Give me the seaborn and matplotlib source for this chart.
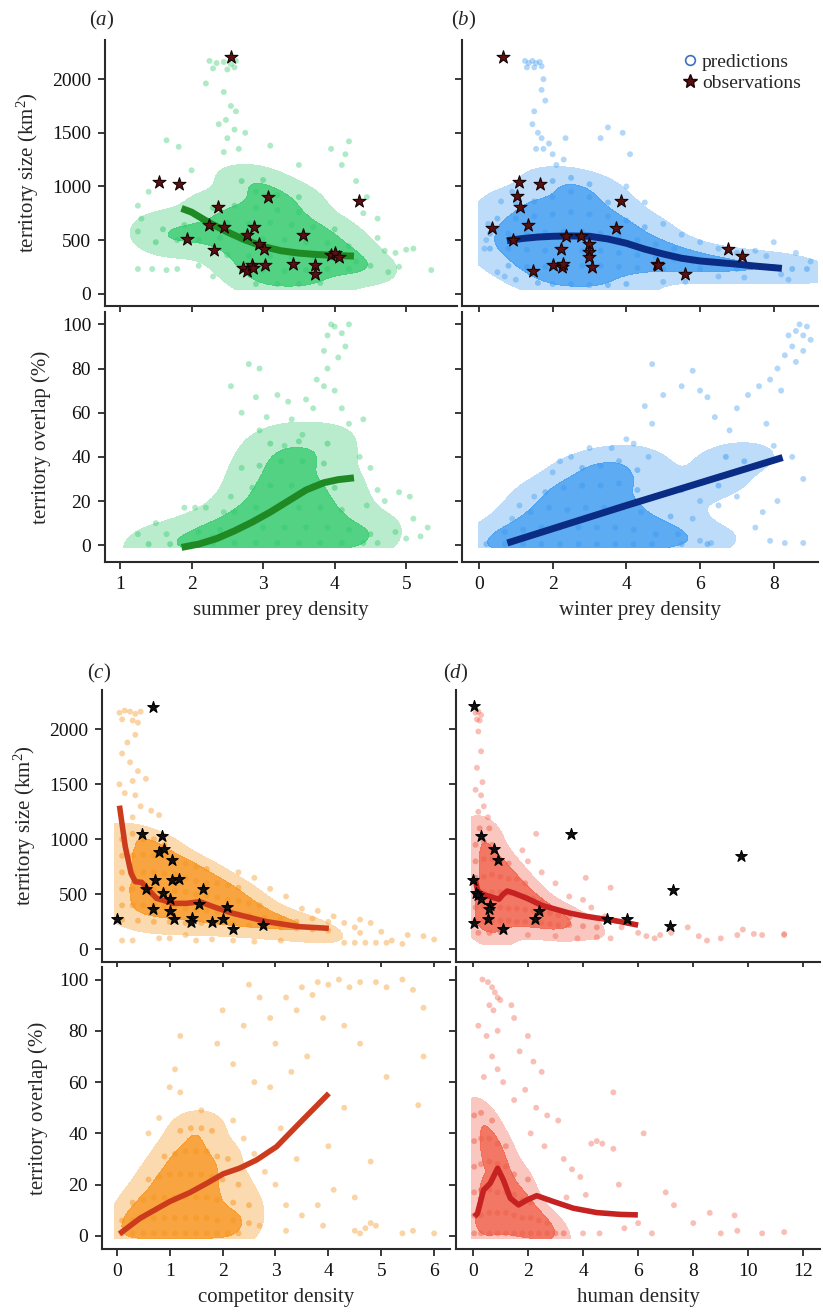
import matplotlib
matplotlib.use("Agg")
import matplotlib.pyplot as plt
import seaborn as sns
from matplotlib.lines import Line2D
from matplotlib.colors import ListedColormap, to_rgba

# ---------------- data ----------------
# (a) summer prey density -> territory size
a_size_core = [(2.3, 800), (2.6, 820), (2.9, 800), (3.2, 780), (3.5, 760),
               (1.6, 600), (1.9, 640), (2.2, 650), (2.5, 660), (2.8, 650), (3.1, 660), (3.4, 640), (3.7, 620), (4.0, 600),
               (1.5, 480), (1.8, 500), (2.1, 500), (2.4, 520), (2.7, 500), (3.0, 510), (3.3, 500), (3.6, 480), (3.9, 470), (4.2, 440),
               (2.5, 360), (2.8, 350), (3.1, 350), (3.4, 340), (3.7, 340), (4.0, 330), (4.3, 300), (4.5, 260),
               (2.7, 220), (3.0, 220), (3.3, 210), (3.6, 220), (3.9, 230), (4.2, 230),
               (2.9, 90), (3.2, 90), (3.5, 90), (3.8, 100),
               (2.9, 950), (3.2, 920), (3.5, 900), (2.7, 1050), (3.0, 1060)]
a_size_sparse = [(2.25, 2170), (2.35, 2150), (2.45, 2160), (2.55, 2140), (2.62, 2170), (2.3, 2100), (2.5, 2090), (2.6, 2110),
                 (2.2, 1960), (2.45, 1880), (2.55, 1750), (2.48, 1620), (2.62, 1700), (2.38, 1580), (2.6, 1530), (2.5, 1450),
                 (2.75, 1500), (2.45, 1320), (2.66, 1350),
                 (1.65, 1430), (1.82, 1370), (3.1, 1380), (3.95, 1350), (4.15, 1300), (4.2, 1420), (4.1, 1200), (3.5, 1200),
                 (2.0, 1150), (1.4, 950), (1.25, 820), (1.3, 700), (1.25, 580),
                 (1.25, 230), (1.45, 230), (1.65, 220), (1.8, 230), (2.1, 260), (2.3, 160),
                 (4.6, 520), (4.7, 400), (4.85, 380), (5.0, 410), (5.1, 420), (4.9, 250), (4.75, 200), (4.4, 750),
                 (4.6, 700), (5.35, 220), (4.45, 900), (4.3, 1050)]
a_size_line_x = [1.86, 2.0, 2.25, 2.5, 2.75, 3.0, 3.25, 3.5, 3.75, 4.0, 4.27]
a_size_line_y = [795, 760, 660, 575, 500, 440, 400, 378, 365, 357, 350]
a_obs = [(1.54, 1037), (1.83, 1025), (2.55, 2202), (2.37, 804), (1.93, 506), (2.24, 643), (2.31, 410), (2.45, 618),
         (2.78, 543), (2.87, 621), (2.94, 460), (3.01, 416), (3.07, 904), (2.72, 242), (2.77, 214), (2.85, 264),
         (2.86, 242), (3.03, 267), (3.42, 273), (3.56, 543), (3.72, 267), (3.73, 180), (3.95, 360), (4.00, 376),
         (4.06, 345), (4.34, 863)]

# (a) summer prey density -> territory overlap
a_ovl_core = [(1.4, 0.5), (1.7, 0.5), (2.0, 0.5), (2.3, 1), (2.6, 1), (2.9, 1), (3.2, 1), (3.5, 1), (3.8, 1), (4.1, 1), (4.4, 1),
              (2.1, 6), (2.4, 7), (2.7, 8), (3.0, 8), (3.3, 8), (3.6, 8), (3.9, 8), (4.2, 7), (4.5, 5),
              (2.6, 15), (2.9, 17), (3.2, 17), (3.5, 17), (3.8, 17), (4.1, 16),
              (2.85, 26), (3.1, 27), (3.4, 27), (3.7, 27), (4.0, 26),
              (2.95, 36), (3.25, 38), (3.55, 38), (3.85, 37),
              (3.1, 46), (3.5, 47), (3.9, 46)]
a_ovl_sparse = [(1.25, 5), (1.5, 10), (1.65, 5), (1.9, 17), (2.05, 17), (2.2, 17), (2.45, 15), (2.3, 4), (2.55, 22), (2.7, 35),
                (2.7, 60), (2.55, 72), (2.8, 82), (2.95, 80), (2.9, 67), (3.2, 68), (3.35, 65), (3.05, 58), (3.4, 57), (3.6, 66),
                (3.7, 62), (3.75, 75), (3.85, 72), (3.9, 80), (3.85, 88), (3.9, 95), (3.95, 100), (4.0, 99), (4.1, 96),
                (4.15, 90), (4.05, 85), (4.2, 100), (4.0, 70), (4.1, 62), (4.2, 55), (4.4, 57), (4.35, 40), (4.5, 35),
                (4.6, 25), (4.45, 18), (4.7, 20), (4.9, 24), (5.05, 22), (5.1, 12), (5.0, 3), (4.85, 6), (5.2, 4), (5.3, 8),
                (4.6, 1), (3.55, 50), (3.3, 45), (2.95, 52)]
a_ovl_line_x = [1.86, 2.1, 2.35, 2.6, 2.85, 3.1, 3.35, 3.6, 3.85, 4.05, 4.27]
a_ovl_line_y = [-1, 0.5, 3, 6.5, 10.5, 15, 20, 25, 28.3, 29.7, 30.5]

# (b) winter prey density -> territory size
b_size_core = [(1.0, 850), (1.5, 860), (2.0, 900), (2.5, 950), (3.0, 900), (3.5, 850),
               (2.0, 1050), (2.5, 1080), (3.0, 1020),
               (0.5, 700), (1.0, 700), (1.5, 720), (2.0, 740), (2.5, 760), (3.0, 740), (3.5, 720), (4.0, 680), (4.5, 620),
               (0.3, 560), (0.8, 560), (1.3, 560), (1.8, 570), (2.3, 580), (2.8, 580), (3.3, 560), (3.8, 540), (4.3, 500),
               (4.8, 460), (5.3, 420),
               (0.3, 420), (0.8, 420), (1.3, 410), (1.8, 400), (2.3, 400), (2.8, 400), (3.3, 400), (3.8, 380), (4.3, 360),
               (4.8, 340), (5.3, 320), (5.8, 300), (6.3, 300), (6.8, 290),
               (0.8, 260), (1.3, 250), (1.8, 250), (2.3, 250), (2.8, 260), (3.3, 260), (3.8, 250), (4.3, 240), (5.0, 230),
               (6.0, 230), (7.0, 230), (7.5, 260), (8.0, 250), (8.5, 230), (8.9, 230),
               (1.6, 100), (2.0, 90), (2.5, 90), (3.0, 80), (3.5, 80), (4.0, 90)]
b_size_sparse = [(1.25, 2170), (1.35, 2150), (1.45, 2170), (1.55, 2150), (1.65, 2160), (1.3, 2110), (1.5, 2110), (1.7, 2120),
                 (1.75, 2000), (1.7, 1900), (1.8, 1800), (1.5, 1700), (1.45, 1580), (1.6, 1500), (1.7, 1450), (1.9, 1400),
                 (1.75, 1350), (2.0, 1300), (1.55, 1350), (2.1, 1200), (2.35, 1450), (3.5, 1550), (3.3, 1450), (3.9, 1500),
                 (4.1, 1300), (2.3, 1250),
                 (0.15, 420), (0.2, 500), (0.25, 650), (0.6, 860), (0.9, 950), (0.5, 200), (0.7, 160), (1.0, 130),
                 (4.5, 850), (4.0, 1000), (5.0, 650), (5.5, 550), (6.0, 480), (6.5, 420), (7.0, 380), (7.5, 400),
                 (8.0, 480), (7.8, 350), (8.6, 380), (9.0, 300), (5.0, 110), (5.6, 110), (6.5, 160), (7.2, 150),
                 (8.2, 180), (8.4, 130)]
b_size_line_x = [0.76, 1.2, 1.6, 2.0, 2.5, 3.0, 3.5, 4.0, 4.5, 5.0, 5.5, 6.0, 6.5, 7.0, 7.5, 8.22]
b_size_line_y = [494, 515, 528, 535, 538, 535, 510, 470, 415, 370, 330, 305, 290, 275, 257, 236]
b_obs = [(0.65, 2202), (0.35, 615), (0.92, 500), (1.08, 1040), (1.04, 907), (1.11, 804), (1.67, 1025), (1.34, 640),
         (1.48, 214), (2.02, 264), (2.25, 252), (2.29, 273), (2.22, 413), (2.36, 534), (2.76, 540), (2.99, 460),
         (2.99, 385), (2.98, 345), (3.08, 248), (3.73, 615), (3.85, 866), (4.83, 273), (4.87, 264), (5.59, 183),
         (6.75, 413), (7.15, 351)]

# (b) winter prey density -> territory overlap
b_ovl_core = [(0.2, 0.5), (0.7, 0.5), (1.2, 0.5), (1.7, 0.5), (2.2, 0.5), (2.7, 0.5), (3.2, 0.5), (3.7, 0.5), (4.2, 0.5),
              (4.7, 0.5), (5.5, 0.5), (6.2, 0.5),
              (0.7, 6), (1.2, 7), (1.7, 8), (2.2, 8), (2.7, 8), (3.2, 8), (3.7, 8), (4.2, 7), (4.8, 5), (5.4, 5),
              (1.4, 15), (1.9, 17), (2.4, 16), (2.9, 17), (3.4, 17), (3.9, 17), (4.4, 15), (5.2, 13),
              (1.8, 24), (2.3, 26), (2.8, 27), (3.3, 27), (3.8, 28), (4.3, 25), (5.5, 25), (6.5, 27),
              (2.8, 35), (3.3, 36), (3.8, 38), (4.3, 34), (6.7, 40), (7.2, 38)]
b_ovl_sparse = [(0.9, 12), (1.5, 22), (1.1, 18), (2.0, 33), (2.5, 40), (2.2, 38), (3.0, 44), (3.6, 44), (4.0, 48), (4.2, 46),
                (4.6, 40), (4.7, 55), (4.5, 63), (5.0, 68), (5.8, 79), (6.0, 70), (5.5, 72), (4.7, 82), (6.2, 67), (6.4, 58),
                (6.8, 52), (7.3, 68), (7.0, 62), (7.6, 72), (7.9, 75), (8.1, 80), (8.3, 86), (8.5, 90), (8.6, 97), (8.8, 95),
                (8.9, 99), (8.7, 100), (8.4, 95), (8.6, 83), (8.8, 88), (9.0, 93), (8.2, 70), (7.8, 55), (8.0, 45),
                (8.5, 40), (8.8, 30), (8.1, 20), (7.7, 15), (7.5, 8), (7.9, 2), (8.3, 1), (8.8, 1), (6.0, 2), (6.3, 1),
                (5.8, 12), (6.0, 20), (6.5, 18), (7.0, 22)]
b_ovl_line_x = [0.77, 4.0, 8.24]
b_ovl_line_y = [1, 18, 39.7]

# (c) competitor density -> territory size
c_size_core = [(0.1, 1000), (0.3, 1050), (0.5, 1000), (0.7, 1000), (0.9, 950),
               (0.1, 850), (0.3, 850), (0.5, 860), (0.7, 850), (0.9, 840), (1.1, 820), (1.3, 780), (1.5, 750), (1.7, 730),
               (0.1, 700), (0.3, 700), (0.5, 700), (0.7, 700), (0.9, 690), (1.1, 680), (1.3, 650), (1.5, 620), (1.7, 600),
               (1.9, 600), (2.1, 580), (2.3, 560),
               (0.1, 550), (0.3, 550), (0.5, 540), (0.7, 540), (0.9, 540), (1.1, 530), (1.3, 520), (1.5, 500), (1.7, 490),
               (1.9, 470), (2.1, 450), (2.3, 440), (2.5, 420), (2.7, 400),
               (0.1, 400), (0.3, 400), (0.5, 400), (0.7, 400), (0.9, 390), (1.1, 380), (1.3, 370), (1.5, 360), (1.7, 350),
               (1.9, 340), (2.1, 330), (2.3, 320), (2.5, 310), (2.8, 290), (3.1, 270), (3.4, 250),
               (0.1, 270), (0.4, 260), (0.7, 250), (1.0, 250), (1.3, 240), (1.6, 240), (1.9, 240), (2.2, 230), (2.5, 220),
               (2.8, 210), (3.1, 200), (3.4, 190), (3.7, 180), (4.0, 170)]
c_size_sparse = [(0.05, 2150), (0.15, 2170), (0.25, 2160), (0.35, 2140), (0.45, 2160), (0.1, 2090), (0.3, 2080), (0.4, 2060),
                 (0.35, 1950), (0.2, 1880), (0.1, 1780), (0.25, 1700), (0.4, 1620), (0.05, 1500), (0.3, 1530), (0.15, 1420),
                 (0.35, 1400), (0.55, 1550), (0.45, 1300), (0.8, 1220), (0.65, 1260), (0.3, 1200),
                 (0.1, 80), (0.3, 80), (0.8, 100), (1.0, 100), (1.5, 80), (1.8, 90), (2.2, 80), (2.6, 70), (3.1, 80), (1.3, 130),
                 (2.3, 700), (2.6, 650), (2.9, 550), (3.2, 480), (3.5, 370), (3.7, 280), (4.0, 250), (4.3, 240), (4.5, 200),
                 (4.8, 240), (5.0, 160), (4.3, 60), (4.5, 60), (4.7, 60), (4.9, 60), (5.1, 60), (4.6, 150), (5.2, 80),
                 (5.5, 130), (5.8, 120), (6.0, 90), (5.4, 50), (3.8, 350), (4.1, 300), (4.6, 270)]
c_size_line_x = [0.05, 0.16, 0.27, 0.35, 0.47, 0.57, 0.75, 1.07, 1.32, 1.57, 1.82, 2.2, 2.83, 3.45, 4.01]
c_size_line_y = [1306, 933, 691, 615, 609, 555, 464, 418, 418, 433, 388, 327, 252, 206, 191]
c_obs = [(0.0, 279), (0.48, 1045), (0.86, 1027), (0.80, 882), (0.90, 909), (1.05, 812), (0.69, 2203), (0.72, 627),
         (1.04, 627), (1.17, 642), (0.55, 545), (0.87, 509), (1.00, 461), (1.63, 552), (0.69, 364), (1.0, 352),
         (1.09, 273), (1.42, 285), (1.41, 248), (1.55, 415), (1.80, 248), (2.01, 273), (2.09, 388), (2.19, 185),
         (2.76, 218)]

# (c) competitor density -> territory overlap
c_ovl_core = [(0.1, 1), (0.3, 1), (0.5, 1), (0.7, 1), (0.9, 1), (1.1, 1), (1.3, 1), (1.5, 1), (1.7, 1), (1.9, 1), (2.1, 1), (2.3, 1),
              (0.1, 6), (0.3, 6), (0.5, 7), (0.7, 7), (0.9, 7), (1.1, 7), (1.3, 7), (1.5, 7), (1.7, 7), (1.9, 6), (2.2, 6), (2.5, 5),
              (0.3, 13), (0.5, 14), (0.7, 15), (0.9, 15), (1.1, 15), (1.3, 15), (1.5, 15), (1.7, 15), (1.9, 14), (2.2, 13), (2.5, 12),
              (0.6, 22), (0.8, 23), (1.0, 24), (1.2, 24), (1.4, 24), (1.6, 24), (1.8, 23), (2.0, 22), (2.3, 20),
              (0.9, 31), (1.1, 32), (1.3, 33), (1.5, 33), (1.7, 33), (1.9, 31), (2.1, 30),
              (1.2, 41), (1.4, 42), (1.6, 42), (1.8, 41)]
c_ovl_sparse = [(0.6, 40), (0.8, 46), (1.0, 58), (1.2, 56), (1.2, 78), (1.1, 65), (1.6, 49), (2.2, 45), (2.4, 38), (2.6, 32),
                (2.8, 25), (3.0, 20), (3.2, 12), (3.5, 8), (3.9, 4), (3.2, 2), (2.7, 4),
                (1.9, 75), (2.0, 88), (2.2, 67), (2.4, 82), (2.5, 98), (2.7, 93), (2.9, 85), (3.0, 75), (3.2, 93), (3.4, 88),
                (3.5, 97), (3.7, 94), (3.8, 99), (4.0, 98), (4.2, 100), (4.4, 97), (4.6, 99), (4.9, 99), (5.1, 97),
                (5.4, 100), (5.6, 96), (5.8, 89), (5.8, 70), (5.7, 51), (5.1, 62), (4.6, 75), (4.3, 82), (3.9, 85),
                (3.6, 70), (3.3, 64), (2.9, 58), (2.6, 60), (3.1, 42), (3.4, 30), (4.0, 35), (4.3, 50), (4.8, 29),
                (4.5, 15), (4.5, 2), (4.6, 1), (4.7, 3), (4.8, 5), (4.9, 4), (5.4, 1), (5.6, 2), (6.0, 1), (3.8, 12), (4.1, 18)]
c_ovl_line_x = [0.05, 0.44, 1.0, 1.38, 1.7, 2.01, 2.32, 2.64, 3.02, 3.45, 4.01]
c_ovl_line_y = [0.8, 6.9, 13.4, 16.9, 20.5, 24.2, 26.4, 29.6, 34.8, 43.9, 55.6]

# (d) human density -> territory size
d_size_core = [(0.1, 950), (0.4, 980), (0.7, 950), (0.25, 1100), (0.6, 1100),
               (0.1, 800), (0.4, 820), (0.7, 820), (1.0, 800), (1.3, 780),
               (0.1, 650), (0.4, 660), (0.7, 680), (1.0, 660), (1.3, 640), (1.6, 640), (1.9, 600),
               (0.1, 500), (0.4, 520), (0.7, 520), (1.0, 520), (1.3, 510), (1.6, 500), (1.9, 480), (2.2, 460), (2.5, 430),
               (0.1, 380), (0.4, 390), (0.7, 380), (1.0, 380), (1.3, 370), (1.6, 370), (1.9, 360), (2.2, 350), (2.5, 340),
               (2.8, 330), (3.1, 310), (3.5, 290),
               (0.1, 260), (0.4, 260), (0.7, 260), (1.0, 260), (1.3, 260), (1.6, 250), (1.9, 250), (2.2, 240), (2.5, 240),
               (2.8, 230), (3.1, 220), (3.5, 220), (4.0, 210), (4.5, 200),
               (0.2, 150), (0.6, 150), (1.0, 160)]
d_size_sparse = [(0.1, 2150), (0.2, 2160), (0.3, 2130), (0.15, 2090), (0.25, 2080), (0.2, 1980), (0.3, 1800), (0.15, 1650),
                 (0.35, 1520), (0.1, 1450), (0.3, 1400), (0.4, 1300), (0.2, 1250), (0.55, 1200),
                 (2.3, 1050), (1.8, 900), (2.0, 800), (2.5, 700), (3.0, 600), (3.5, 480), (4.0, 450), (4.3, 380), (4.8, 300),
                 (5.2, 260), (5.6, 240), (5.4, 200), (6.0, 150), (6.3, 120), (6.6, 100), (5.0, 100), (4.5, 110), (3.8, 100),
                 (3.0, 120), (2.0, 130), (7.2, 150), (7.8, 200), (8.2, 120), (8.5, 80), (9.0, 100), (9.6, 130), (10.2, 140),
                 (10.5, 130), (11.3, 140), (11.3, 130), (9.8, 180), (6.8, 130), (4.1, 650), (5.0, 560)]
d_size_line_x = [0.08, 0.17, 0.3, 0.5, 0.75, 0.95, 1.1, 1.25, 1.5, 2.0, 2.5, 3.0, 3.5, 4.0, 4.5, 5.0, 5.5, 6.0]
d_size_line_y = [640, 540, 505, 490, 470, 455, 500, 530, 510, 460, 400, 365, 330, 305, 285, 268, 245, 220]
d_obs = [(0.06, 2209), (0.28, 1027), (0.77, 909), (0.90, 809), (0.0, 627), (0.1, 515), (0.18, 491), (0.28, 458),
         (0.63, 400), (0.57, 370), (0.54, 276), (0.06, 242), (1.11, 182), (2.27, 279), (2.40, 345), (3.57, 1045),
         (4.88, 276), (5.6, 276), (7.26, 542), (7.14, 212), (9.75, 848)]

# (d) human density -> territory overlap
d_ovl_core = [(0.05, 1), (0.3, 1), (0.6, 1), (0.9, 1), (1.2, 1), (1.5, 1), (1.8, 1), (2.1, 1), (2.4, 1), (2.7, 1), (3.0, 1), (3.3, 1),
              (0.05, 8), (0.3, 8), (0.6, 9), (0.9, 9), (1.2, 9), (1.5, 8), (1.8, 7), (2.1, 7), (2.4, 6), (2.7, 5),
              (0.05, 17), (0.3, 18), (0.6, 18), (0.9, 17), (1.2, 17), (1.5, 16), (1.8, 14), (2.1, 13),
              (0.05, 27), (0.3, 28), (0.6, 29), (0.9, 28), (1.2, 27), (1.5, 24), (2.0, 22),
              (0.05, 37), (0.3, 38), (0.6, 38), (0.9, 36), (1.2, 35),
              (0.05, 47), (0.3, 48), (0.7, 45)]
d_ovl_sparse = [(0.35, 100), (0.55, 99), (0.7, 97), (0.8, 95), (0.9, 93), (1.0, 92), (0.6, 90), (0.75, 88), (0.9, 80),
                (0.5, 78), (0.7, 70), (0.4, 62), (0.9, 65), (1.1, 60), (0.2, 82), (1.4, 90), (1.5, 85), (2.0, 78),
                (1.7, 72), (2.2, 68), (2.5, 64), (1.9, 57), (1.5, 53), (2.3, 50), (2.7, 47), (3.1, 45), (2.1, 40),
                (2.6, 35), (3.3, 30), (3.6, 26), (4.3, 36), (4.5, 37), (4.7, 36), (3.9, 23), (4.1, 16), (3.4, 15),
                (5.1, 34), (5.3, 20), (6.2, 40), (5.1, 56), (7.0, 17), (7.3, 12), (6.0, 5), (5.5, 3), (4.6, 1), (4.0, 1),
                (6.5, 1), (8.0, 5), (9.0, 1), (9.6, 2), (10.5, 1), (11.3, 1.5), (8.6, 9), (9.5, 8)]
d_ovl_line_x = [0.06, 0.17, 0.39, 0.63, 0.9, 1.11, 1.36, 1.66, 1.96, 2.32, 2.93, 3.65, 4.5, 5.35, 5.99]
d_ovl_line_y = [7.5, 8.8, 17.9, 20.5, 26.4, 21.8, 14.7, 12.1, 14.0, 15.7, 13.4, 10.8, 9.1, 8.4, 8.2]

# ---------------- style ----------------
sns.set_theme(style="ticks")
plt.rcParams["font.family"] = ["Liberation Serif", "DejaVu Serif"]
plt.rcParams["mathtext.fontset"] = "custom"
plt.rcParams["mathtext.rm"] = "Liberation Serif"
plt.rcParams["mathtext.it"] = "Liberation Serif:italic"

W, H = 823, 1312
fig = plt.figure(figsize=(W / 100, H / 100), dpi=100)
AX_COL = "#2a2a2a"


def add_ax(l, t, r, b):
    return fig.add_axes([l / W, 1 - b / H, (r - l) / W, (b - t) / H])


def unzip(pts):
    return [p[0] for p in pts], [p[1] for p in pts]


def cloud(ax, core, sparse, color, clip):
    # the dense body of the prediction cloud is shaded from the density of the core points
    cx, cy = unzip(core)
    cmap = ListedColormap([to_rgba(color, 0.35), to_rgba(color, 0.85)])
    sns.kdeplot(x=cx, y=cy, ax=ax, fill=True, levels=[0.04, 0.35, 1.0], cmap=cmap,
                bw_adjust=0.75, clip=clip)
    sns.scatterplot(x=cx, y=cy, ax=ax, s=18, color=color, alpha=0.5, edgecolor="none", legend=False)
    sx, sy = unzip(sparse)
    sns.scatterplot(x=sx, y=sy, ax=ax, s=18, color=color, alpha=0.4, edgecolor="none", legend=False)


def fit(ax, xs, ys, color, lw):
    sns.lineplot(x=xs, y=ys, ax=ax, color=color, linewidth=lw, sort=False, estimator=None,
                 solid_capstyle="butt", legend=False)


def stars(ax, pts, face, edge, size):
    ox, oy = unzip(pts)
    sns.scatterplot(x=ox, y=oy, ax=ax, marker="*", s=size, color=face, edgecolor=edge, linewidth=0.8,
                    legend=False, zorder=5)


def style(ax, xlim, ylim, xticks, yticks, xlab, ylab):
    ax.set_xlim(xlim)
    ax.set_ylim(ylim)
    ax.set_xticks(xticks)
    ax.set_yticks(yticks)
    if xlab is None:
        ax.set_xticklabels([])
        ax.set_xlabel("")
    else:
        ax.set_xlabel(xlab, fontsize=15, labelpad=6)
    if ylab is None:
        ax.set_yticklabels([])
        ax.set_ylabel("")
    else:
        ax.set_ylabel(ylab, fontsize=15, labelpad=8)
    sns.despine(ax=ax)
    for s in ("left", "bottom"):
        ax.spines[s].set_linewidth(1.5)
        ax.spines[s].set_color(AX_COL)
    ax.tick_params(direction="out", length=5, width=1.3, color=AX_COL, labelsize=14, pad=5,
                   labelcolor="#111111")


size_ticks = [0, 500, 1000, 1500, 2000]
ovl_ticks = [0, 20, 40, 60, 80, 100]
size_lab = "territory size (km$^{2}$)"
ovl_lab = "territory overlap (%)"

green, green_line = "#35cb6f", "#1f8a24"
blue, blue_line = "#3f9cf2", "#0b2c84"
orange, orange_line = "#f7951f", "#cc3b1c"
red, red_line = "#f0604a", "#c72222"
maroon, maroon_edge = "#5a1010", "#1a0404"

# (a)
ax = add_ax(105, 40, 457, 306)
cloud(ax, a_size_core, a_size_sparse, green, ((0.8, 5.7), (40, 2300)))
fit(ax, a_size_line_x, a_size_line_y, green_line, 5)
stars(ax, a_obs, maroon, maroon_edge, 95)
style(ax, (0.79, 5.71), (-115, 2365), [1, 2, 3, 4, 5], size_ticks, None, size_lab)

ax = add_ax(105, 312, 457, 562)
cloud(ax, a_ovl_core, a_ovl_sparse, green, ((0.8, 5.7), (-1, 100)))
fit(ax, a_ovl_line_x, a_ovl_line_y, green_line, 5)
style(ax, (0.79, 5.71), (-7.6, 105.6), [1, 2, 3, 4, 5], ovl_ticks, "summer prey density", ovl_lab)

# (b)
ax = add_ax(462, 40, 818, 306)
cloud(ax, b_size_core, b_size_sparse, blue, ((0.0, 9.2), (40, 2300)))
fit(ax, b_size_line_x, b_size_line_y, blue_line, 5)
stars(ax, b_obs, maroon, maroon_edge, 95)
style(ax, (-0.46, 9.2), (-115, 2365), [0, 2, 4, 6, 8], size_ticks, None, None)
handles = [Line2D([0], [0], marker="o", linestyle="none", markerfacecolor="none", markeredgecolor="#3d6fc2",
                  markersize=7, markeredgewidth=1.2, label="predictions"),
           Line2D([0], [0], marker="*", linestyle="none", markerfacecolor=maroon, markeredgecolor=maroon_edge,
                  markersize=10, label="observations")]
ax.legend(handles=handles, loc="upper right", frameon=False, fontsize=14, handletextpad=0.2,
          handlelength=0.8, labelspacing=0.15, borderaxespad=0.3, bbox_to_anchor=(0.99, 1.0))

ax = add_ax(462, 312, 818, 562)
cloud(ax, b_ovl_core, b_ovl_sparse, blue, ((0.0, 9.2), (-1, 100)))
fit(ax, b_ovl_line_x, b_ovl_line_y, blue_line, 5)
style(ax, (-0.46, 9.2), (-7.6, 105.6), [0, 2, 4, 6, 8], ovl_ticks, "winter prey density", None)

# (c)
ax = add_ax(102, 690, 450, 962)
cloud(ax, c_size_core, c_size_sparse, orange, ((-0.05, 6.2), (40, 2300)))
fit(ax, c_size_line_x, c_size_line_y, orange_line, 4)
stars(ax, c_obs, "#111111", "#000000", 75)
style(ax, (-0.28, 6.3), (-115, 2357), [0, 1, 2, 3, 4, 5, 6], size_ticks, None, size_lab)

ax = add_ax(102, 967, 450, 1249)
cloud(ax, c_ovl_core, c_ovl_sparse, orange, ((-0.05, 6.2), (-1, 100)))
fit(ax, c_ovl_line_x, c_ovl_line_y, orange_line, 4)
style(ax, (-0.28, 6.3), (-5.1, 104.9), [0, 1, 2, 3, 4, 5, 6], ovl_ticks, "competitor density", ovl_lab)

# (d)
ax = add_ax(456, 690, 820, 962)
cloud(ax, d_size_core, d_size_sparse, red, ((-0.05, 12.5), (40, 2300)))
fit(ax, d_size_line_x, d_size_line_y, red_line, 4)
stars(ax, d_obs, "#111111", "#000000", 75)
style(ax, (-0.61, 12.6), (-115, 2357), [0, 2, 4, 6, 8, 10, 12], size_ticks, None, None)

ax = add_ax(456, 967, 820, 1249)
cloud(ax, d_ovl_core, d_ovl_sparse, red, ((-0.05, 12.5), (-1, 100)))
fit(ax, d_ovl_line_x, d_ovl_line_y, red_line, 4)
style(ax, (-0.61, 12.6), (-5.1, 104.9), [0, 2, 4, 6, 8, 10, 12], ovl_ticks, "human density", None)

# panel letters
for txt, x, y in [("a", 102, 20), ("b", 464, 20), ("c", 99, 673), ("d", 456, 673)]:
    fig.text(x / W, 1 - y / H, "$(\\mathit{%s})$" % txt, fontsize=15, ha="center", va="center")

fig.savefig("out.png", dpi=100)
